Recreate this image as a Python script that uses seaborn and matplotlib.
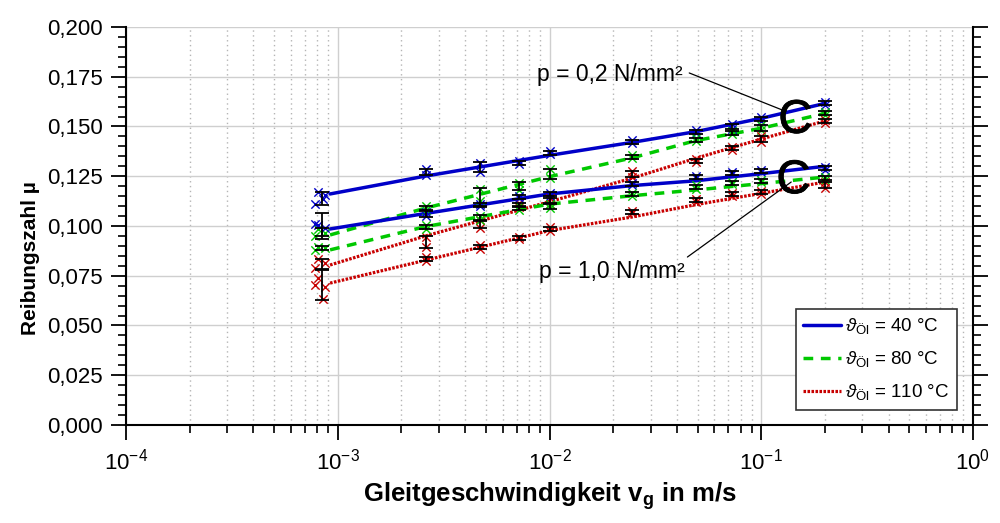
import numpy as np
import pandas as pd
import matplotlib
matplotlib.use("Agg")
import matplotlib.pyplot as plt
import matplotlib.patheffects as pe
import seaborn as sns
from matplotlib.ticker import MultipleLocator, FuncFormatter, LogLocator, NullFormatter
from matplotlib.lines import Line2D

# ---------------- data ----------------
v_groups = [8.4e-4, 2.6e-3, 4.7e-3, 7.2e-3, 1.0e-2, 2.45e-2, 4.9e-2, 7.3e-2, 1.0e-1, 2.0e-1]
v_first_raw = [8.1e-4, 8.7e-4, 7.8e-4, 8.5e-4]  # scattered velocities of first group

# p = 0,2 N/mm²
mean_40_p02 = [0.114, 0.127, 0.1295, 0.1317, 0.1367, 0.1422, 0.1472, 0.150, 0.1538, 0.1618]
err_40_p02 = [0.0033, 0.0015, 0.0025, 0.001, 0.001, 0.001, 0.001, 0.0015, 0.001, 0.001]
raw_40_p02 = [[0.117, 0.1155, 0.111, 0.1135], [0.1285, 0.1258], [0.1318, 0.1272], [0.1325, 0.131],
              [0.1375, 0.136], [0.143, 0.1415], [0.148, 0.1465], [0.1513, 0.1488], [0.1547, 0.153],
              [0.1625, 0.161]]
mean_80_p02 = [0.097, 0.109, 0.1145, 0.120, 0.1262, 0.1347, 0.1432, 0.1467, 0.1492, 0.1568]
err_80_p02 = [0.002, 0.001, 0.0045, 0.002, 0.0025, 0.001, 0.001, 0.001, 0.0015, 0.001]
raw_80_p02 = [[0.0985, 0.0965, 0.095], [0.1098, 0.1082], [0.1185, 0.1125], [0.1215, 0.118],
              [0.1285, 0.124], [0.1355, 0.134], [0.144, 0.1425], [0.1475, 0.146], [0.1505, 0.148],
              [0.1575, 0.156]]
mean_110_p02 = [0.081, 0.092, 0.101, 0.1105, 0.1125, 0.126, 0.1327, 0.139, 0.1435, 0.1528]
err_110_p02 = [0.0025, 0.003, 0.002, 0.001, 0.0015, 0.0015, 0.001, 0.001, 0.0015, 0.001]
raw_110_p02 = [[0.0834, 0.0814, 0.079], [0.0945, 0.0895], [0.103, 0.099], [0.1115, 0.1095],
               [0.114, 0.111], [0.1276, 0.1246], [0.1335, 0.132], [0.1398, 0.1382], [0.145, 0.142],
               [0.1535, 0.152]]
# p = 1,0 N/mm²
mean_40_p10 = [0.100, 0.106, 0.1105, 0.1146, 0.116, 0.1211, 0.1246, 0.1266, 0.1276, 0.129]
err_40_p10 = [0.0065, 0.0015, 0.001, 0.001, 0.001, 0.001, 0.001, 0.001, 0.001, 0.001]
raw_40_p10 = [[0.1005, 0.099, 0.101], [0.107, 0.105], [0.111, 0.110], [0.1152, 0.114],
              [0.1168, 0.1152], [0.1218, 0.1204], [0.1253, 0.1239], [0.1272, 0.126], [0.1282, 0.127],
              [0.1298, 0.1283]]
mean_80_p10 = [0.089, 0.0995, 0.104, 0.109, 0.110, 0.116, 0.1196, 0.1216, 0.1226, 0.124]
err_80_p10 = [0.001, 0.001, 0.0015, 0.001, 0.0015, 0.001, 0.001, 0.001, 0.001, 0.001]
raw_80_p10 = [[0.0895, 0.089, 0.088], [0.1005, 0.0985], [0.1048, 0.1032], [0.1098, 0.1082],
              [0.1112, 0.1088], [0.1168, 0.1152], [0.1204, 0.1188], [0.1223, 0.1209], [0.1233, 0.1219],
              [0.1248, 0.1232]]
mean_110_p10 = [0.0705, 0.0834, 0.0894, 0.094, 0.0985, 0.107, 0.113, 0.116, 0.117, 0.1205]
err_110_p10 = [0.0075, 0.001, 0.001, 0.001, 0.001, 0.001, 0.001, 0.001, 0.001, 0.0015]
raw_110_p10 = [[0.0739, 0.0693, 0.0703, 0.0633], [0.0842, 0.0826], [0.0902, 0.0886], [0.0947, 0.0933],
               [0.0993, 0.0977], [0.1077, 0.1063], [0.1138, 0.1122], [0.1168, 0.1152], [0.1178, 0.1162],
               [0.1222, 0.119]]

# fitted curves
v_fit = [9.2e-4, 2.6e-3, 1.0e-2, 2.45e-2, 4.9e-2, 1.0e-1, 2.0e-1]
fit_40_p02 = [0.1161, 0.1251, 0.1355, 0.1420, 0.1474, 0.1541, 0.1616]
fit_80_p02 = [0.0955, 0.1090, 0.1248, 0.1342, 0.1429, 0.1491, 0.1566]
fit_110_p02 = [0.0804, 0.0950, 0.1122, 0.1240, 0.1340, 0.1437, 0.1528]
fit_40_p10 = [0.0985, 0.1063, 0.1161, 0.1203, 0.1227, 0.1263, 0.1300]
fit_80_p10 = [0.0880, 0.0997, 0.1110, 0.1152, 0.1181, 0.1213, 0.1246]
fit_110_p10 = [0.0713, 0.0828, 0.0977, 0.1045, 0.1107, 0.1164, 0.1221]

legend_labels = [r"$\vartheta_{\mathrm{Öl}}$ = 40 °C", r"$\vartheta_{\mathrm{Öl}}$ = 80 °C",
                 r"$\vartheta_{\mathrm{Öl}}$ = 110 °C"]
x_label = r"Gleitgeschwindigkeit $\mathbf{v}_{\mathbf{g}}$ in m/s"
y_label = "Reibungszahl µ"
note_p02 = "p = 0,2 N/mm²"
note_p10 = "p = 1,0 N/mm²"

# ---------------- style ----------------
sns.set_style("white")
plt.rcParams["font.family"] = ["Liberation Sans", "DejaVu Sans"]
plt.rcParams["mathtext.fontset"] = "custom"
plt.rcParams["mathtext.rm"] = "Liberation Sans"
plt.rcParams["mathtext.it"] = "Liberation Sans:italic"
plt.rcParams["mathtext.bf"] = "Liberation Sans:bold"
plt.rcParams["mathtext.sf"] = "Liberation Sans"
for key in ["text.color", "axes.labelcolor", "xtick.color", "ytick.color", "axes.edgecolor"]:
    plt.rcParams[key] = "black"

BLUE, GREEN, RED = "#0000C8", "#00C800", "#C80000"
styles = {
    "40": dict(color=BLUE, linestyle="-", lw=2.5),
    "80": dict(color=GREEN, linestyle=(0, (2.8, 2.2)), lw=2.5),
    "110": dict(color=RED, linestyle=(0, (0.8, 0.45)), lw=2.3),
}

series = [
    ("40", mean_40_p02, err_40_p02, raw_40_p02, fit_40_p02),
    ("80", mean_80_p02, err_80_p02, raw_80_p02, fit_80_p02),
    ("110", mean_110_p02, err_110_p02, raw_110_p02, fit_110_p02),
    ("40", mean_40_p10, err_40_p10, raw_40_p10, fit_40_p10),
    ("80", mean_80_p10, err_80_p10, raw_80_p10, fit_80_p10),
    ("110", mean_110_p10, err_110_p10, raw_110_p10, fit_110_p10),
]

fig = plt.figure(figsize=(10, 5.23), dpi=100)
ax = fig.add_axes([0.126, 0.1874, 0.847, 0.7610])
ax.set_xscale("log")

# lines
for temp, mean, err, raw, fit in series:
    st = styles[temp]
    df = pd.DataFrame({"v": v_fit, "mu": fit})
    sns.lineplot(data=df, x="v", y="mu", ax=ax, estimator=None, sort=False,
                 color=st["color"], linestyle=st["linestyle"], linewidth=st["lw"], zorder=3)

# raw markers
for temp, mean, err, raw, fit in series:
    st = styles[temp]
    xs, ys = [], []
    for gi, vals in enumerate(raw):
        for k, val in enumerate(vals):
            xs.append(v_first_raw[k] if gi == 0 else v_groups[gi])
            ys.append(val)
    sns.scatterplot(x=xs, y=ys, ax=ax, marker="x", s=36, color=st["color"],
                    linewidth=1.0, zorder=4, legend=False)

# error bars of means
for temp, mean, err, raw, fit in series:
    ax.errorbar(v_groups, mean, yerr=err, fmt="none", ecolor="black", elinewidth=1.3,
                capsize=5, capthick=1.3, zorder=5)

# axes setup
ax.set_xlim(1e-4, 1.0)
ax.set_ylim(0.0, 0.2)
ax.yaxis.set_major_locator(MultipleLocator(0.025))
ax.yaxis.set_minor_locator(MultipleLocator(0.005))
ax.yaxis.set_major_formatter(FuncFormatter(lambda y, p: f"{y:.3f}".replace(".", ",")))
ax.xaxis.set_major_locator(LogLocator(base=10, numticks=10))
ax.xaxis.set_minor_locator(LogLocator(base=10, subs=np.arange(2, 10), numticks=20))
ax.xaxis.set_minor_formatter(NullFormatter())

ax.set_axisbelow(True)
ax.grid(which="major", color="#cfcfcf", lw=1.0, ls="-")
ax.xaxis.grid(which="minor", color="#b5b5b5", lw=1.0, ls=(0, (1, 2.5)))

for side in ["left", "bottom", "right"]:
    ax.spines[side].set_visible(True)
    ax.spines[side].set_color("black")
    ax.spines[side].set_linewidth(1.5)
ax.spines["top"].set_visible(False)

ax.tick_params(axis="both", which="major", direction="out", length=11, width=1.3,
               labelsize=16, color="black", labelcolor="black", pad=6)
ax.tick_params(axis="both", which="minor", direction="out", length=6, width=1.2, color="black")
ax.tick_params(axis="y", which="both", left=True, right=True, labelright=False)
ax.tick_params(axis="x", which="both", bottom=True, top=False)

ax.set_xlabel(x_label, fontsize=18.5, fontweight="bold", color="black")
ax.set_ylabel(y_label, fontsize=15, fontweight="bold", color="black")
ax.xaxis.set_label_coords(0.5, -0.14)
ax.yaxis.set_label_coords(-0.101, 0.42)

# annotations
ax.text(0.0192, 0.1759, note_p02, ha="center", va="center", fontsize=16.5, zorder=6)
ax.text(0.0196, 0.0769, note_p10, ha="center", va="center", fontsize=16.5, zorder=6)
ax.annotate("", xy=(0.1256, 0.1583), xytext=(0.0457, 0.1769),
            arrowprops=dict(arrowstyle="-", color="black", lw=0.9, shrinkA=0, shrinkB=0), zorder=6)
ax.annotate("", xy=(0.1385, 0.1221), xytext=(0.0448, 0.0844),
            arrowprops=dict(arrowstyle="-", color="black", lw=0.9, shrinkA=0, shrinkB=0), zorder=6)
thick = [pe.withStroke(linewidth=0.6, foreground="black")]
ax.text(0.145, 0.1468, "C", ha="center", va="baseline", fontsize=34, zorder=6, path_effects=thick)
ax.text(0.142, 0.1165, "C", ha="center", va="baseline", fontsize=34, zorder=6, path_effects=thick)

# legend
handles = [Line2D([0], [0], color=styles[t]["color"], linestyle=styles[t]["linestyle"],
                  lw=styles[t]["lw"]) for t in ["40", "80", "110"]]
leg = ax.legend(handles, legend_labels, loc="lower right", bbox_to_anchor=(0.981, 0.038),
                borderaxespad=0, frameon=True, fancybox=False, framealpha=1, edgecolor="#333333",
                fontsize=13.5, handlelength=2.0, handletextpad=0.25, labelspacing=0.7,
                borderpad=0.4)
leg.get_frame().set_linewidth(1.2)
leg.set_zorder(10)

fig.savefig("out.png", dpi=100)
